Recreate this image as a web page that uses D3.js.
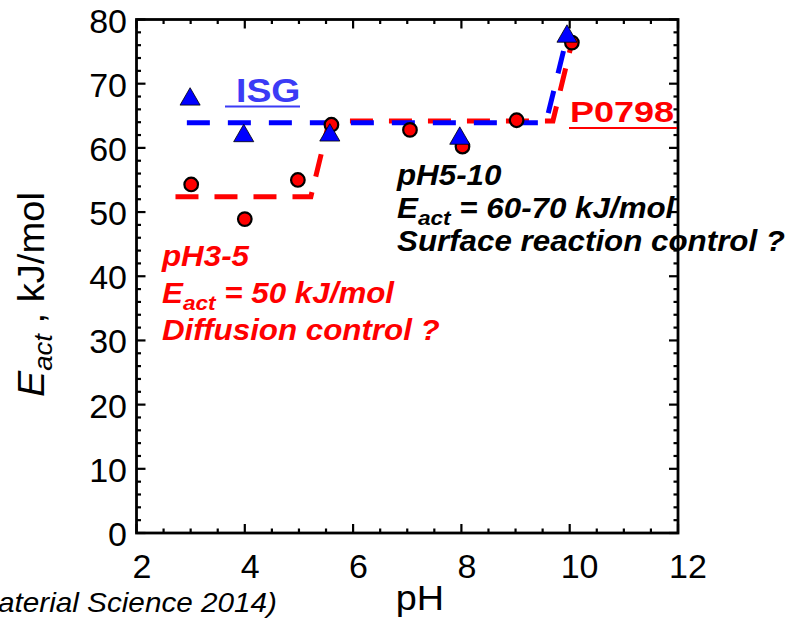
<!DOCTYPE html>
<html><head><meta charset="utf-8">
<script src="https://cdn.jsdelivr.net/npm/d3@7"></script>
<style>
body{margin:0;background:#fff;}
svg{display:block;font-family:"Liberation Sans",Arial,Helvetica,sans-serif;}
</style></head>
<body><svg id="chart" width="803" height="624"></svg>
<script>
// ---- data ----
const p0798_pH   = [3.01, 4.0, 4.98, 5.6, 7.05, 8.02, 9.02, 10.04];
const p0798_Eact = [54.3, 48.9, 55.0, 63.6, 62.8, 60.2, 64.3, 76.4];
const isg_pH     = [2.99, 3.98, 5.57, 7.97, 9.95];
const isg_Eact   = [67.8, 62.1, 62.2, 61.7, 77.6];
const p0798_fit_pH   = [2.72, 5.22, 5.56, 9.69, 10.04];
const p0798_fit_Eact = [52.4, 52.4, 64.2, 64.2, 76.4];
const isg_fit_pH     = [2.93, 9.56, 9.97];
const isg_fit_Eact   = [63.9, 63.9, 78.0];
const xTicks = [2, 4, 6, 8, 10, 12];
const yTicks = [0, 10, 20, 30, 40, 50, 60, 70, 80];

const svg = d3.select("#chart");
const L = 136.5, R = 678, T = 19.5, B = 533;
const x = d3.scaleLinear().domain([2, 12]).range([L, R]);
const y = d3.scaleLinear().domain([0, 80]).range([B, T]);

// ---- frame and ticks ----
const axisColor = "#000";
const g = svg.append("g");
const majorLen = 9, minorLen = 4.5;
d3.range(2, 12.01, 0.5).forEach(v => {
  const isMajor = Math.abs(v / 2 - Math.round(v / 2)) < 1e-6;
  const len = isMajor ? majorLen : minorLen;
  g.append("line").attr("x1", x(v)).attr("x2", x(v)).attr("y1", B).attr("y2", B - len)
    .attr("stroke", axisColor).attr("stroke-width", 2.2);
  g.append("line").attr("x1", x(v)).attr("x2", x(v)).attr("y1", T).attr("y2", T + len)
    .attr("stroke", axisColor).attr("stroke-width", 2.2);
});
d3.range(0, 80.01, 2).forEach(v => {
  const isMajor = v % 10 === 0;
  const len = isMajor ? majorLen : minorLen;
  g.append("line").attr("y1", y(v)).attr("y2", y(v)).attr("x1", L).attr("x2", L + len)
    .attr("stroke", axisColor).attr("stroke-width", 2.2);
  g.append("line").attr("y1", y(v)).attr("y2", y(v)).attr("x1", R).attr("x2", R - len)
    .attr("stroke", axisColor).attr("stroke-width", 2.2);
});
g.append("rect").attr("x", L).attr("y", T).attr("width", R - L).attr("height", B - T)
  .attr("fill", "none").attr("stroke", axisColor).attr("stroke-width", 2.8);

// tick labels
svg.append("g").selectAll("text").data(xTicks).join("text")
  .attr("x", d => x(d) - (String(d).length > 1 ? 9 : 4))
  .attr("y", 578).attr("font-size", 34).attr("fill", "#000")
  .text(d => d);
svg.append("g").selectAll("text").data(yTicks).join("text")
  .attr("x", 127).attr("y", d => y(d) + 13).attr("text-anchor", "end")
  .attr("font-size", 34).attr("fill", "#000")
  .text(d => d);

// axis titles
svg.append("text").attr("transform", "translate(420,610) scale(1.08,1)")
  .attr("text-anchor", "middle").attr("font-size", 35).text("pH");
const yl = svg.append("text").attr("transform", "translate(44,397) rotate(-90) scale(1.06,1)")
  .attr("font-size", 36);
yl.append("tspan").attr("font-style", "italic").attr("font-size", 37).text("E");
yl.append("tspan").attr("font-style", "italic").attr("font-size", 26).attr("dy", 8).text("act");
yl.append("tspan").attr("dy", -8).text(" , kJ/mol");

// caption (cut at left edge, as in the original)
svg.append("text").attr("transform", "translate(-2,612) scale(1.1,1)")
  .attr("font-size", 27).attr("font-style", "italic").text("aterial Science 2014)");

// ---- fit lines ----
const line = d3.line().x(d => x(d[0])).y(d => y(d[1]));
svg.append("path").datum(d3.zip(p0798_fit_pH, p0798_fit_Eact))
  .attr("d", line).attr("fill", "none").attr("stroke", "#ff0000")
  .attr("stroke-width", 5).attr("stroke-dasharray", "23,16");
svg.append("path").datum(d3.zip(isg_fit_pH, isg_fit_Eact))
  .attr("d", line).attr("fill", "none").attr("stroke", "#0000ff")
  .attr("stroke-width", 5).attr("stroke-dasharray", "23,18");

// ---- markers ----
svg.append("g").selectAll("circle").data(d3.zip(p0798_pH, p0798_Eact)).join("circle")
  .attr("cx", d => x(d[0])).attr("cy", d => y(d[1])).attr("r", 6.8)
  .attr("fill", "#ff0000").attr("stroke", "#000").attr("stroke-width", 2.2);
const tri = d3.symbol().type(d3.symbolTriangle).size(175);
svg.append("g").selectAll("path").data(d3.zip(isg_pH, isg_Eact)).join("path")
  .attr("transform", d => `translate(${x(d[0])},${y(d[1]) + 1.5})`)
  .attr("d", tri).attr("fill", "#0000ff").attr("stroke", "#000").attr("stroke-width", 0.8);

// ---- labels ----
svg.append("text").attr("transform", "translate(236,102) scale(1.1,1)")
  .attr("font-size", 34).attr("font-weight", "bold").attr("fill", "#3b3bf5").text("ISG");
svg.append("line").attr("x1", 225).attr("x2", 300).attr("y1", 106.5).attr("y2", 106.5)
  .attr("stroke", "#3b3bf5").attr("stroke-width", 2);
svg.append("text").attr("transform", "translate(570,122) scale(1.2,1)")
  .attr("font-size", 30).attr("font-weight", "bold").attr("fill", "#ff0000").text("P0798");
svg.append("line").attr("x1", 569).attr("x2", 677).attr("y1", 128).attr("y2", 128)
  .attr("stroke", "#ff0000").attr("stroke-width", 2);

function block(x0, baselines, color, lines) {
  lines.forEach((ln, i) => {
    const t = svg.append("text").attr("transform", `translate(${x0},${baselines[i]}) scale(1.08,1)`)
      .attr("font-size", 29).attr("font-weight", "bold").attr("font-style", "italic").attr("fill", color);
    if (Array.isArray(ln)) {
      t.append("tspan").text(ln[0]);
      t.append("tspan").attr("font-size", 21).attr("dy", 7).text(ln[1]);
      t.append("tspan").attr("dy", -7).text(ln[2]);
    } else t.text(ln);
  });
}
block(162, [266, 303, 340], "#ff0000",
  ["pH3-5", ["E", "act", " = 50 kJ/mol"], "Diffusion control ?"]);
block(397, [185, 218, 251], "#000000",
  ["pH5-10", ["E", "act", " = 60-70 kJ/mol"], "Surface reaction control ?"]);
</script></body></html>
